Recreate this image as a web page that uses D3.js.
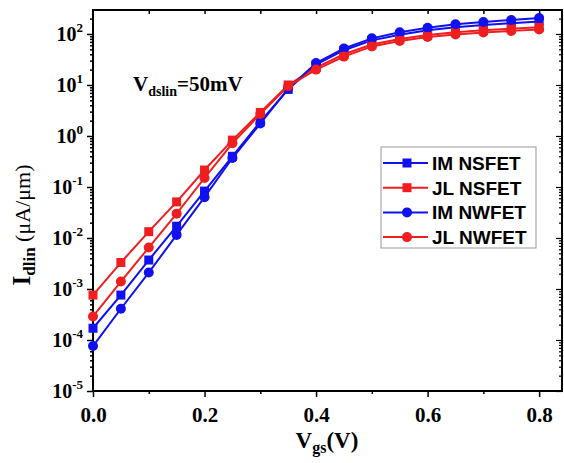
<!DOCTYPE html>
<html>
<head>
<meta charset="utf-8">
<script src="https://cdn.jsdelivr.net/npm/d3@7.9.0/dist/d3.min.js"></script>
<style>
  body { margin: 0; background: #fff; }
  svg { display: block; }
</style>
</head>
<body>
<div id="chart"></div>
<script>
// gate voltage sweep (V)
const vgs = [0, 0.05, 0.1, 0.15, 0.2, 0.25, 0.3, 0.35, 0.4, 0.45, 0.5, 0.55, 0.6, 0.65, 0.7, 0.75, 0.8];

// Idlin in uA/um
const imNsfet = [1.7e-4, 7.6e-4, 3.7e-3, 0.017, 0.083, 0.40, 1.9, 8.2, 25, 48, 75, 97, 118, 135, 150, 162, 175];
const jlNsfet = [7.6e-4, 3.3e-3, 0.0133, 0.051, 0.215, 0.83, 2.9, 10, 22, 40, 62, 80, 95, 108, 118, 127, 135];
const imNwfet = [7.6e-5, 4.1e-4, 2.1e-3, 0.0115, 0.063, 0.37, 1.75, 8.5, 27, 52, 82, 108, 132, 155, 172, 188, 205];
const jlNwfet = [2.9e-4, 1.4e-3, 6.5e-3, 0.030, 0.15, 0.72, 2.7, 9.5, 20, 36, 57, 73, 87, 98, 107, 115, 122];

const seriesNames = ['IM NSFET', 'JL NSFET', 'IM NWFET', 'JL NWFET'];
const xTicks = [0, 0.2, 0.4, 0.6, 0.8];
const yExponents = [-5, -4, -3, -2, -1, 0, 1, 2];

const blue = '#1010f0';
const red = '#f01e1e';

const series = [
  { name: seriesNames[0], values: imNsfet, color: blue, shape: 'square' },
  { name: seriesNames[1], values: jlNsfet, color: red, shape: 'square' },
  { name: seriesNames[2], values: imNwfet, color: blue, shape: 'circle' },
  { name: seriesNames[3], values: jlNwfet, color: red, shape: 'circle' },
];

const width = 564;
const height = 463;
const margin = { top: 10, right: 2, bottom: 72, left: 93 };

const svg = d3.select('#chart')
  .append('svg')
  .attr('width', width)
  .attr('height', height);

const x = d3.scaleLinear()
  .domain([0, 0.841])
  .range([margin.left, width - margin.right]);

const y = d3.scaleLog()
  .domain([1e-5, Math.pow(10, 2.47)])
  .range([height - margin.bottom, margin.top]);

const serif = '"Liberation Serif", "Times New Roman", serif';
const sans = '"Liberation Sans", Arial, sans-serif';

const majorY = yExponents.map((e) => Math.pow(10, e));

// minor log ticks
const minorY = [];
for (let e = -5; e <= 2; e++) {
  for (let m = 2; m <= 9; m++) {
    const v = m * Math.pow(10, e);
    if (v <= y.domain()[1]) minorY.push(v);
  }
}

// left axis
const leftAxis = svg.append('g').attr('transform', `translate(${margin.left},0)`);
leftAxis.call(d3.axisLeft(y).tickValues(majorY).tickSize(6).tickFormat(''));
leftAxis.append('g').call(d3.axisLeft(y).tickValues(minorY).tickSize(3).tickFormat(''));
leftAxis.selectAll('.domain').remove();
leftAxis.selectAll('line').attr('stroke', '#000').attr('stroke-width', 1.5);

// y tick labels with superscripts
const yLabels = svg.append('g')
  .attr('font-family', serif)
  .attr('font-weight', 'bold')
  .attr('fill', '#000');
yExponents.forEach((e) => {
  const t = yLabels.append('text')
    .attr('x', 83)
    .attr('y', y(Math.pow(10, e)) + 7)
    .attr('text-anchor', 'end')
    .attr('font-size', 20);
  t.append('tspan').text('10');
  t.append('tspan').attr('dy', -9).attr('font-size', 13).text(String(e));
});

// right axis (mirror, ticks inside)
const rightAxis = svg.append('g').attr('transform', `translate(${width - margin.right},0)`);
rightAxis.call(d3.axisRight(y).tickValues(majorY).tickSize(-6).tickFormat(''));
rightAxis.append('g').call(d3.axisRight(y).tickValues(minorY).tickSize(-3).tickFormat(''));
rightAxis.selectAll('.domain').remove();
rightAxis.selectAll('line').attr('stroke', '#000').attr('stroke-width', 1.2);

// bottom axis
const bottomAxis = svg.append('g').attr('transform', `translate(0,${height - margin.bottom})`);
bottomAxis.call(d3.axisBottom(x).tickValues(xTicks).tickSize(6).tickFormat(d3.format('.1f')));
bottomAxis.append('g').call(d3.axisBottom(x).tickValues([0.1, 0.3, 0.5, 0.7]).tickSize(3).tickFormat(''));
bottomAxis.selectAll('.domain').remove();
bottomAxis.selectAll('line').attr('stroke', '#000').attr('stroke-width', 1.5);
bottomAxis.selectAll('text')
  .attr('font-family', serif)
  .attr('font-weight', 'bold')
  .attr('font-size', 21)
  .attr('fill', '#000')
  .attr('dy', '1.05em');

// top axis ticks
const topAxis = svg.append('g').attr('transform', `translate(0,${margin.top})`);
topAxis.call(d3.axisBottom(x).tickValues([0.1, 0.2, 0.3, 0.4, 0.5, 0.6, 0.7, 0.8]).tickSize(4).tickFormat(''));
topAxis.selectAll('.domain').remove();
topAxis.selectAll('line').attr('stroke', '#000').attr('stroke-width', 1.5);

// frame
svg.append('rect')
  .attr('x', margin.left)
  .attr('y', margin.top)
  .attr('width', width - margin.right - margin.left)
  .attr('height', height - margin.bottom - margin.top)
  .attr('fill', 'none')
  .attr('stroke', '#000')
  .attr('stroke-width', 2);

// series
const line = d3.line()
  .x((d) => x(d[0]))
  .y((d) => y(d[1]));

function drawMarker(g, shape, color, cx, cy) {
  if (shape === 'square') {
    g.append('rect')
      .attr('x', cx - 4.5).attr('y', cy - 4.5)
      .attr('width', 9).attr('height', 9)
      .attr('fill', color);
  } else {
    g.append('circle')
      .attr('cx', cx).attr('cy', cy).attr('r', 5)
      .attr('fill', color);
  }
}

const plot = svg.append('g');
series.forEach((s) => {
  const pts = vgs.map((v, i) => [v, s.values[i]]);
  const g = plot.append('g');
  g.append('path')
    .attr('d', line(pts))
    .attr('fill', 'none')
    .attr('stroke', s.color)
    .attr('stroke-width', 2);
  pts.forEach((p) => drawMarker(g, s.shape, s.color, x(p[0]), y(p[1])));
});

// annotation
const ann = svg.append('text')
  .attr('x', 133)
  .attr('y', 91)
  .attr('font-family', serif)
  .attr('font-weight', 'bold')
  .attr('font-size', 21)
  .attr('fill', '#000');
ann.append('tspan').text('V');
ann.append('tspan').attr('dy', 5).attr('font-size', 14).text('dslin');
ann.append('tspan').attr('dy', -5).text('=50mV');

// legend
const legend = svg.append('g').attr('transform', 'translate(381,147)');
legend.append('rect')
  .attr('width', 155)
  .attr('height', 101)
  .attr('fill', '#fff')
  .attr('stroke', '#999')
  .attr('stroke-width', 1);
series.forEach((s, i) => {
  const ry = 16 + i * 24.7;
  const g = legend.append('g');
  g.append('line')
    .attr('x1', 2).attr('x2', 47)
    .attr('y1', ry).attr('y2', ry)
    .attr('stroke', s.color).attr('stroke-width', 2);
  drawMarker(g, s.shape, s.color, 26, ry);
  g.append('text')
    .attr('x', 51)
    .attr('y', ry + 7)
    .attr('font-family', sans)
    .attr('font-weight', 'bold')
    .attr('font-size', 19)
    .attr('fill', '#000')
    .text(s.name);
});

// axis titles
const xt = svg.append('text')
  .attr('x', 327)
  .attr('y', 448)
  .attr('text-anchor', 'middle')
  .attr('font-family', serif)
  .attr('font-weight', 'bold')
  .attr('font-size', 23)
  .attr('fill', '#000');
xt.append('tspan').text('V');
xt.append('tspan').attr('dy', 5).attr('font-size', 16).text('gs');
xt.append('tspan').attr('dy', -5).text('(V)');

const yt = svg.append('text')
  .attr('transform', 'translate(30,225) rotate(-90)')
  .attr('text-anchor', 'middle')
  .attr('font-family', serif)
  .attr('font-weight', 'bold')
  .attr('font-size', 25)
  .attr('fill', '#000');
yt.append('tspan').text('I');
yt.append('tspan').attr('dy', 5).attr('font-size', 17).text('dlin');
yt.append('tspan').attr('dy', -5).attr('font-weight', 'normal').attr('font-size', 22).text(' (\u03bcA/\u03bcm)');
</script>
</body>
</html>
